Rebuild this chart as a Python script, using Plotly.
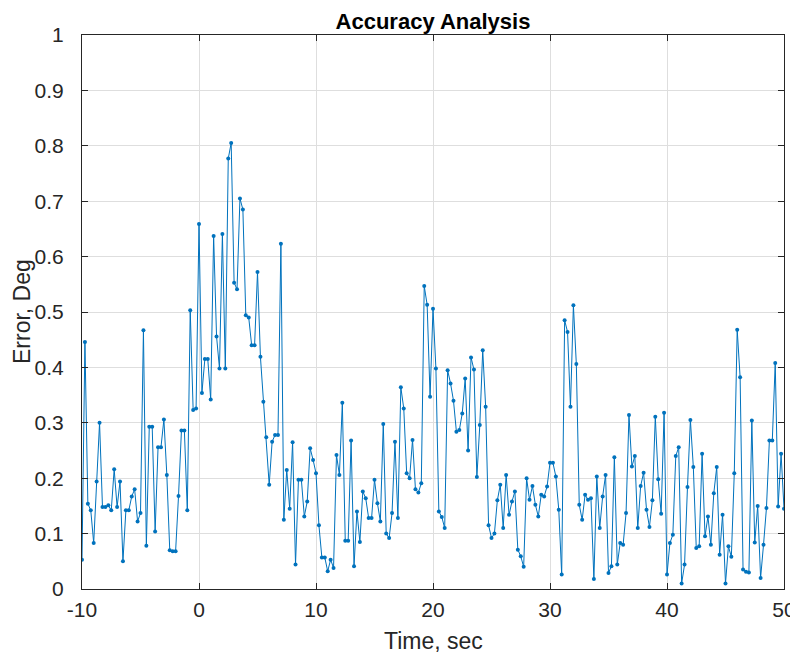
import numpy as np
import plotly.graph_objects as go

# sample times: -10 .. 50 sec, 0.25 sec step
t_start = -10.0
t_step = 0.25

error_deg = [
    0.053, 0.446, 0.154, 0.142, 0.083, 0.194, 0.300, 0.148, 0.148, 0.151,
    0.142, 0.216, 0.148, 0.194, 0.050, 0.142, 0.142, 0.167, 0.180, 0.122,
    0.137, 0.467, 0.078, 0.293, 0.293, 0.104, 0.256, 0.256, 0.306, 0.206,
    0.070, 0.068, 0.068, 0.168, 0.286, 0.286, 0.142, 0.503, 0.323, 0.326,
    0.659, 0.354, 0.415, 0.415, 0.342, 0.637, 0.456, 0.398, 0.641, 0.398,
    0.777, 0.805, 0.553, 0.541, 0.705, 0.685, 0.494, 0.490, 0.440, 0.440,
    0.572, 0.419, 0.338, 0.274, 0.188, 0.266, 0.278, 0.278, 0.623, 0.125,
    0.215, 0.145, 0.265, 0.044, 0.197, 0.197, 0.131, 0.158, 0.254, 0.233,
    0.209, 0.115, 0.057, 0.057, 0.032, 0.053, 0.038, 0.242, 0.206, 0.336,
    0.087, 0.087, 0.268, 0.041, 0.140, 0.085, 0.176, 0.164, 0.128, 0.128,
    0.197, 0.155, 0.122, 0.298, 0.100, 0.092, 0.137, 0.266, 0.128, 0.364,
    0.326, 0.209, 0.200, 0.269, 0.180, 0.174, 0.191, 0.547, 0.513, 0.347,
    0.506, 0.398, 0.140, 0.130, 0.110, 0.395, 0.371, 0.340, 0.284, 0.287,
    0.317, 0.380, 0.250, 0.418, 0.396, 0.202, 0.296, 0.431, 0.329, 0.115,
    0.092, 0.100, 0.160, 0.188, 0.110, 0.206, 0.134, 0.158, 0.176, 0.071,
    0.059, 0.040, 0.200, 0.161, 0.186, 0.152, 0.131, 0.170, 0.167, 0.185,
    0.228, 0.228, 0.203, 0.143, 0.026, 0.485, 0.464, 0.329, 0.512, 0.406,
    0.152, 0.125, 0.170, 0.161, 0.164, 0.018, 0.203, 0.110, 0.167, 0.206,
    0.029, 0.041, 0.238, 0.044, 0.083, 0.080, 0.137, 0.314, 0.221, 0.240,
    0.110, 0.186, 0.210, 0.143, 0.112, 0.160, 0.311, 0.198, 0.136, 0.318,
    0.026, 0.083, 0.098, 0.240, 0.256, 0.010, 0.044, 0.184, 0.305, 0.220,
    0.074, 0.077, 0.244, 0.095, 0.131, 0.080, 0.173, 0.220, 0.062, 0.134,
    0.010, 0.077, 0.058, 0.209, 0.468, 0.382, 0.035, 0.031, 0.030, 0.304,
    0.084, 0.150, 0.020, 0.080, 0.146, 0.268, 0.268, 0.408, 0.149, 0.244,
    0.145,
]

time_sec = t_start + t_step * np.arange(len(error_deg))

x_ticks = [-10, 0, 10, 20, 30, 40, 50]
x_tick_text = ["-10", "0", "10", "20", "30", "40", "50"]
y_ticks = [0, 0.1, 0.2, 0.3, 0.4, 0.5, 0.6, 0.7, 0.8, 0.9, 1]
y_tick_text = ["0", "0.1", "0.2", "0.3", "0.4", "0.5", "0.6", "0.7", "0.8", "0.9", "1"]

line_color = "#0072BD"
ink = "#262626"
font_family = "Liberation Sans, Arial, sans-serif"

fig = go.Figure()
fig.add_trace(
    go.Scatter(
        x=time_sec,
        y=error_deg,
        mode="lines+markers",
        line=dict(color=line_color, width=1),
        marker=dict(color=line_color, size=4),
        showlegend=False,
    )
)

axis_common = dict(
    showgrid=True,
    gridcolor="#DEDEDE",
    gridwidth=1,
    showline=True,
    linecolor=ink,
    linewidth=1,
    mirror="ticks",
    ticks="inside",
    ticklen=6,
    tickcolor=ink,
    zeroline=False,
    automargin=False,
    tickfont=dict(family=font_family, size=21, color=ink),
)

# the page body adds an 8px offset, so the figure is drawn 8px smaller
fig.update_layout(
    width=790,
    height=648,
    margin=dict(l=74, r=14, t=27, b=67),
    plot_bgcolor="white",
    paper_bgcolor="white",
    title=dict(
        text="<b>Accuracy Analysis</b>",
        x=0.5,
        xref="paper",
        xanchor="center",
        y=1 - 13 / 648,
        yanchor="middle",
        font=dict(family=font_family, size=22, color="black"),
    ),
    xaxis=dict(
        range=[-10, 50],
        tickvals=x_ticks,
        ticktext=x_tick_text,
        ticklabelstandoff=2,
        **axis_common,
    ),
    yaxis=dict(
        range=[0, 1],
        tickvals=y_ticks,
        ticktext=y_tick_text,
        ticklabelstandoff=13,
        **axis_common,
    ),
)

# axis titles
fig.add_annotation(
    text="Time, sec", xref="paper", yref="paper", x=0.5, y=0,
    xanchor="center", yanchor="middle", yshift=-52, showarrow=False,
    font=dict(family=font_family, size=23, color=ink),
)
fig.add_annotation(
    text="Error, Deg", xref="paper", yref="paper", x=0, y=0.5,
    xanchor="center", yanchor="middle", xshift=-60, textangle=-90,
    showarrow=False, font=dict(family=font_family, size=23, color=ink),
)

fig.write_html("out.html")
